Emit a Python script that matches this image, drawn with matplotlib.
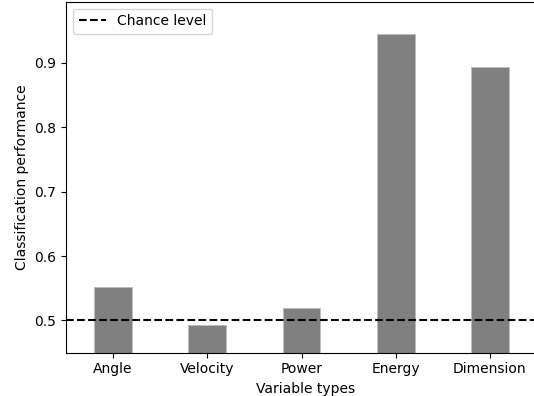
import matplotlib
matplotlib.use('Agg')
import matplotlib.pyplot as plt

# Values
categories = ['Angle', 'Velocity', 'Power', 'Energy', 'Dimension']
performance = [0.552, 0.493, 0.519, 0.945, 0.893]
chance = 0.5

W, H = 534, 396
fig = plt.figure(figsize=(W / 100, H / 100), dpi=100)
# axes run past the right edge, as in the reference crop (no right spine visible)
right_px = 545
ax = fig.add_axes([66 / W, (H - 352.7) / H, (right_px - 66) / W, (352.7 - 1.7) / H])

x = range(len(categories))
ax.bar(x, performance, width=0.4, color='grey', edgecolor='#bdbdbd', linewidth=0.6)
ax.axhline(chance, color='black', linestyle='--', label='Chance level')

ax.set_xticks(list(x))
ax.set_xticklabels(categories)
ax.set_xlim(-0.5, -0.5 + (right_px - 66) / 94.2)
ax.set_ylim(0.45, 0.995)
ax.set_yticks([0.5, 0.6, 0.7, 0.8, 0.9])
ax.set_xlabel('Variable types')
ax.set_ylabel('Classification performance')
ax.spines['right'].set_visible(False)
ax.legend(loc='upper left')

fig.savefig('out.png', dpi=100)
